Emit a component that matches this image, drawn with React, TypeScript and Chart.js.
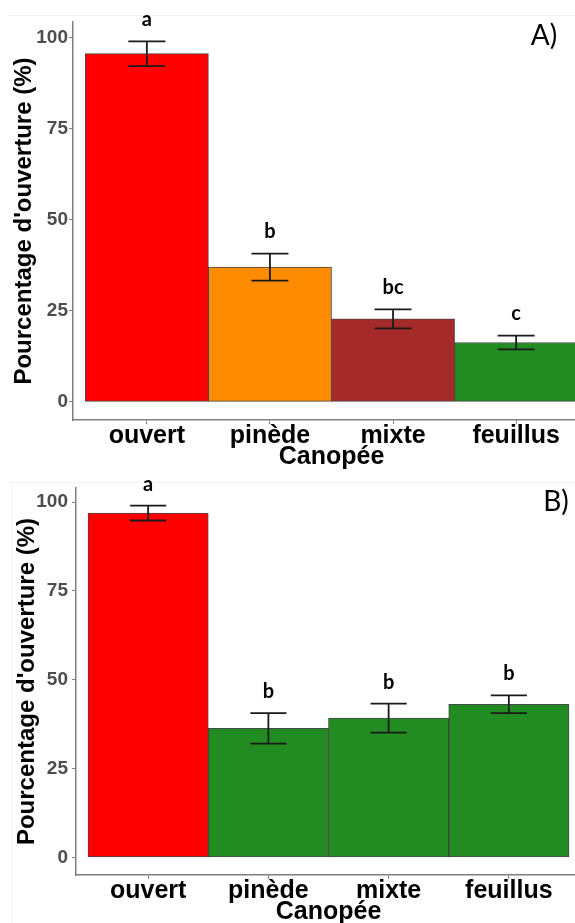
import React, { useEffect, useRef } from "react";
import { Chart, registerables } from "chart.js";

Chart.register(...registerables);

const categories = ["ouvert", "pinède", "mixte", "feuillus"];
const yTicks = [0, 25, 50, 75, 100];

const meansA = [95.6, 37.0, 22.8, 16.3];
const seA = [3.4, 3.7, 2.6, 1.9];
const lettersA = ["a", "b", "bc", "c"];
const colorsA = ["#FF0000", "#FF8C00", "#A52A2A", "#228B22"];

const meansB = [96.9, 36.3, 39.2, 43.1];
const seB = [2.1, 4.3, 4.1, 2.5];
const lettersB = ["a", "b", "b", "b"];
const colorsB = ["#FF0000", "#228B22", "#228B22", "#228B22"];

const LETTER_OFFSET = 6;

type PanelCfg = {
  means: number[];
  se: number[];
  letters: string[];
  colors: string[];
  panelLabel: string;
  width: number;
  height: number;
  padTop: number;
  padRight: number;
  yAxisWidth: number;
  xAxisHeight: number;
  yTitlePad: number;
  yTickPad: number;
  xTitlePad: number;
  labelX: number;
  labelY: number;
  yMin: number;
  yMax: number;
  sepY: number;
  vline: boolean;
};

function makeChart(canvas: HTMLCanvasElement, c: PanelCfg) {
  const overlay = {
    id: "overlay",
    beforeDraw(chart: any) {
      const ctx = chart.ctx;
      ctx.save();
      ctx.strokeStyle = "#f2f2f2";
      ctx.lineWidth = 1;
      ctx.beginPath();
      ctx.moveTo(8, c.sepY + 0.5);
      ctx.lineTo(chart.width, c.sepY + 0.5);
      if (c.vline) {
        ctx.moveTo(12.5, c.sepY);
        ctx.lineTo(12.5, chart.height);
      }
      ctx.stroke();
      ctx.restore();
    },
    afterDatasetsDraw(chart: any) {
      const ctx = chart.ctx;
      const xs = chart.scales.x;
      const ys = chart.scales.y;
      const unit = xs.getPixelForValue(2) - xs.getPixelForValue(1);
      const half = unit * 0.15;
      ctx.save();
      ctx.strokeStyle = "#1a1a1a";
      ctx.lineWidth = 1.8;
      c.means.forEach((m, i) => {
        const px = xs.getPixelForValue(i + 1);
        const top = ys.getPixelForValue(m + c.se[i]);
        const bot = ys.getPixelForValue(m - c.se[i]);
        ctx.beginPath();
        ctx.moveTo(px - half, top);
        ctx.lineTo(px + half, top);
        ctx.moveTo(px, top);
        ctx.lineTo(px, bot);
        ctx.moveTo(px - half, bot);
        ctx.lineTo(px + half, bot);
        ctx.stroke();
      });
      ctx.fillStyle = "#000000";
      ctx.font = "bold 20px Lato";
      ctx.textAlign = "center";
      ctx.textBaseline = "middle";
      c.means.forEach((m, i) => {
        const px = xs.getPixelForValue(i + 1);
        const py = ys.getPixelForValue(m + c.se[i] + LETTER_OFFSET);
        ctx.fillText(c.letters[i], px, py);
      });
      ctx.font = "28px Lato";
      ctx.fillText(c.panelLabel, c.labelX, c.labelY);
      ctx.restore();
    },
  };

  return new Chart(canvas, {
    type: "bar",
    data: {
      datasets: [
        {
          data: c.means.map((m, i) => ({ x: i + 1, y: m })),
          backgroundColor: c.colors,
          borderColor: "rgba(40,40,40,0.85)",
          borderWidth: 1,
          borderSkipped: false,
          barPercentage: 1,
          categoryPercentage: 1,
        },
      ],
    },
    options: {
      animation: false,
      responsive: false,
      maintainAspectRatio: false,
      layout: { padding: { top: c.padTop, right: c.padRight, left: 0, bottom: 0 } },
      plugins: { legend: { display: false }, tooltip: { enabled: false } },
      scales: {
        x: {
          type: "linear",
          min: 0.4,
          max: 4.6,
          offset: false,
          afterBuildTicks: (s: any) => {
            s.ticks = categories.map((_, i) => ({ value: i + 1 }));
          },
          afterFit: (s: any) => {
            s.height = c.xAxisHeight;
          },
          ticks: {
            callback: (v: any) => categories[Number(v) - 1] ?? "",
            font: { family: "Liberation Sans", weight: "bold", size: 25, lineHeight: 1 },
            color: "#000000",
            padding: 0,
            maxRotation: 0,
            autoSkip: false,
          },
          grid: { display: true, offset: false, drawOnChartArea: false, drawTicks: true, tickLength: 4, tickColor: "#7f7f7f", tickWidth: 1 },
          border: { display: true, color: "#7f7f7f", width: 1.5 },
          title: {
            display: true,
            text: "Canopée",
            color: "#000000",
            font: { family: "Liberation Sans", weight: "bold", size: 25, lineHeight: 1 },
            padding: { top: 0, bottom: c.xTitlePad },
          },
        },
        y: {
          type: "linear",
          min: c.yMin,
          max: c.yMax,
          afterBuildTicks: (s: any) => {
            s.ticks = yTicks.map((v) => ({ value: v }));
          },
          afterFit: (s: any) => {
            s.width = c.yAxisWidth;
          },
          ticks: {
            font: { family: "Liberation Sans", weight: "bold", size: 19, lineHeight: 1 },
            color: "#4d4d4d",
            padding: c.yTickPad,
          },
          grid: { display: true, drawOnChartArea: false, drawTicks: true, tickLength: 4, tickColor: "#7f7f7f", tickWidth: 1 },
          border: { display: true, color: "#7f7f7f", width: 1.5 },
          title: {
            display: true,
            text: "Pourcentage d'ouverture (%)",
            color: "#000000",
            font: { family: "Liberation Sans", weight: "bold", size: 24, lineHeight: 1 },
            padding: { top: c.yTitlePad, bottom: 0 },
          },
        },
      },
    } as any,
    plugins: [overlay],
  });
}

const cfgA: PanelCfg = {
  means: meansA,
  se: seA,
  letters: lettersA,
  colors: colorsA,
  panelLabel: "A)",
  width: 600,
  height: 480,
  padTop: 22,
  padRight: 10,
  yAxisWidth: 73,
  xAxisHeight: 60,
  yTitlePad: 12,
  yTickPad: 1,
  xTitlePad: 10.5,
  labelX: 544,
  labelY: 36,
  yMin: -4.97,
  yMax: 104.3,
  sepY: 15,
  vline: false,
};

const cfgB: PanelCfg = {
  means: meansB,
  se: seB,
  letters: lettersB,
  colors: colorsB,
  panelLabel: "B)",
  width: 600,
  height: 470,
  padTop: 18,
  padRight: 19,
  yAxisWidth: 76,
  xAxisHeight: 65,
  yTitlePad: 15,
  yTickPad: 4,
  xTitlePad: 15.5,
  labelX: 556,
  labelY: 32,
  yMin: -4.95,
  yMax: 103.95,
  sepY: 12,
  vline: true,
};

function Panel({ cfg, top }: { cfg: PanelCfg; top: number }) {
  const ref = useRef<HTMLCanvasElement | null>(null);
  useEffect(() => {
    if (!ref.current) return;
    const ch = makeChart(ref.current, cfg);
    return () => ch.destroy();
  }, [cfg]);
  return (
    <canvas
      ref={ref}
      width={cfg.width}
      height={cfg.height}
      style={{ position: "absolute", left: 0, top, width: cfg.width, height: cfg.height }}
    />
  );
}

export default function App() {
  return (
    <div
      style={{
        position: "absolute",
        left: 0,
        top: 0,
        width: 575,
        height: 923,
        overflow: "hidden",
        background: "#ffffff",
      }}
    >
      <Panel cfg={cfgA} top={0} />
      <Panel cfg={cfgB} top={470} />
    </div>
  );
}
